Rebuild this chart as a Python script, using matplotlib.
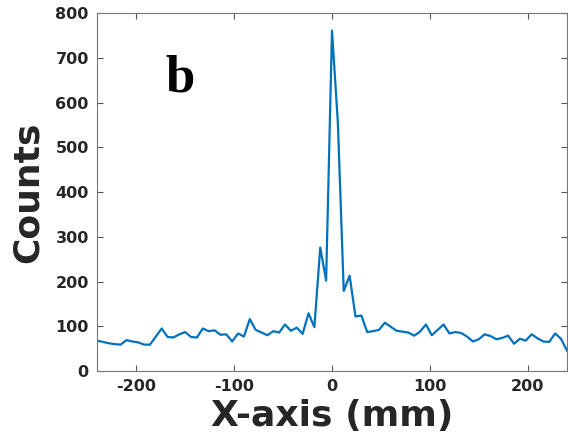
import numpy as np
import matplotlib
matplotlib.use("Agg")
import matplotlib.pyplot as plt

plt.rcParams['axes.unicode_minus'] = False

# positions along the x axis (mm), 6 mm step
x_mm = np.arange(-240, 241, 6)

# counts
counts = [68, 65, 62, 60, 59, 69, 66, 64, 59, 59,
          77, 95, 76, 75, 82, 87, 76, 75, 95, 89,
          91, 81, 82, 66, 84, 77, 116, 92, 86, 80,
          89, 86, 104, 90, 97, 83, 129, 98, 276, 202,
          761, 555, 179, 213, 122, 124, 87, 89, 92, 108,
          99, 90, 88, 86, 79, 88, 104, 80, 92, 104,
          84, 87, 85, 77, 66, 71, 82, 78, 71, 74,
          79, 61, 72, 68, 82, 73, 66, 65, 84, 72,
          46]

xticks = [-200, -100, 0, 100, 200]
yticks = list(range(0, 801, 100))

txt = '#262626'

fig = plt.figure(figsize=(5.68, 4.44), dpi=100)
ax = fig.add_axes([0.171, 0.1644, 0.827, 0.806])

ax.plot(x_mm, counts, color='#0072BD', lw=1.6)

ax.set_xlim(-240, 240)
ax.set_ylim(0, 800)
ax.set_xticks(xticks)
ax.set_yticks(yticks)
ax.tick_params(direction='in', top=True, right=True, length=4, width=0.8,
               colors='#555555', labelcolor=txt, labelsize=11.5, pad=6)
for lab in ax.get_xticklabels() + ax.get_yticklabels():
    lab.set_fontweight('bold')
for s in ax.spines.values():
    s.set_color('#777777')
    s.set_linewidth(0.8)

ax.set_xlabel('X-axis (mm)', fontsize=26, fontweight='bold', color=txt, labelpad=3)
ax.set_ylabel('Counts', fontsize=26, fontweight='bold', color=txt, labelpad=8)

# panel letter
fig.text(180 / 568, 1 - 78 / 444, 'b', fontsize=38, fontweight='bold',
         family='Liberation Serif', ha='center', va='center', color='black')

fig.savefig('out.png', dpi=100)
